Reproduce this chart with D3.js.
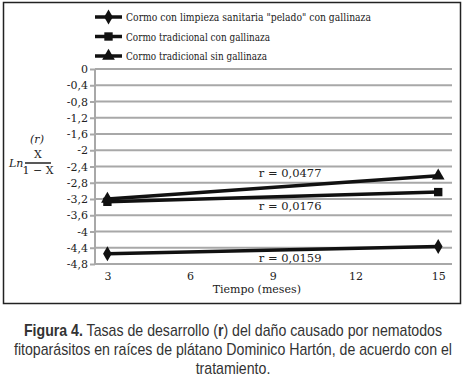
<!DOCTYPE html>
<html>
<head>
<meta charset="utf-8">
<script src="https://cdn.jsdelivr.net/npm/d3@7"></script>
<style>
  body { margin: 0; background: #fff; }
  .serif { font-family: "DejaVu Serif", "Liberation Serif", serif; }
</style>
</head>
<body>
<div id="chart"></div>
<script>
// chart data
const months = [3, 15];
const xTicks = [3, 6, 9, 12, 15];
const yTicks = [0, -0.4, -0.8, -1.2, -1.6, -2, -2.4, -2.8, -3.2, -3.6, -4, -4.4, -4.8];
const seriesNames = [
    "Cormo con limpieza sanitaria \"pelado\" con gallinaza",
    "Cormo tradicional con gallinaza",
    "Cormo tradicional sin gallinaza"
];
const seriesShapes = ["diamond", "square", "triangle"];
const peladoValues = [-4.55, -4.37];
const conGallinazaValues = [-3.27, -3.03];
const sinGallinazaValues = [-3.2, -2.63];
const rLabels = ["r = 0,0159", "r = 0,0176", "r = 0,0477"];
const rLabelY = [-4.75, -3.48, -2.65];
const captionLines = [
    "fitoparásitos en raíces de plátano Dominico Hartón, de acuerdo con el",
    "tratamiento."
];

const allValues = [peladoValues, conGallinazaValues, sinGallinazaValues];

const svgWidth = 467;
const svgHeight = 380;
const margin = { top: 69, right: 15, bottom: 116, left: 95 };
const width = svgWidth - margin.left - margin.right;
const height = svgHeight - margin.top - margin.bottom;

const svg = d3.select("#chart").append("svg")
    .attr("width", svgWidth)
    .attr("height", svgHeight);

// outer frame
svg.append("rect")
    .attr("x", 3.5).attr("y", 2.5)
    .attr("width", 457).attr("height", 301)
    .attr("fill", "none").attr("stroke", "#222").attr("stroke-width", 1.5);

const g = svg.append("g").attr("transform", `translate(${margin.left},${margin.top})`);

const x = d3.scaleLinear().domain([2.55, 15.5]).range([0, width]);
const y = d3.scaleLinear().domain([-4.8, 0]).range([height, 0]);

// gridlines
g.selectAll(".grid").data(yTicks).enter().append("line")
    .attr("x1", 0).attr("x2", width)
    .attr("y1", d => y(d)).attr("y2", d => y(d))
    .attr("stroke", "#a8a8a8").attr("stroke-width", 2);
g.append("line")
    .attr("x1", 0).attr("x2", 0).attr("y1", 0).attr("y2", height)
    .attr("stroke", "#a8a8a8").attr("stroke-width", 2);

// y axis labels, decimal comma
const yAxis = g.append("g").attr("class", "serif")
    .call(d3.axisLeft(y).tickValues(yTicks).tickSize(5)
        .tickFormat(d => d === 0 ? "0" : String(d).replace(".", ",")));
yAxis.select(".domain").remove();
yAxis.selectAll(".tick line").attr("stroke", "#a8a8a8").attr("stroke-width", 2);
yAxis.selectAll("text").attr("font-size", 11).attr("fill", "#222").attr("x", -7);

// x axis labels
const xAxis = g.append("g").attr("class", "serif")
    .attr("transform", `translate(0,${height})`)
    .call(d3.axisBottom(x).tickValues(xTicks).tickSize(0).tickPadding(8));
xAxis.select(".domain").remove();
xAxis.selectAll("text").attr("font-size", 11).attr("fill", "#222");

g.append("text").attr("class", "serif")
    .attr("x", x(9) - 16).attr("y", height + 29)
    .attr("text-anchor", "middle").attr("font-size", 11).attr("fill", "#222")
    .text("Tiempo (meses)");

// y axis title: (r)  Ln X/(1-X)
const yt = svg.append("g").attr("class", "serif").attr("fill", "#222");
yt.append("text").attr("x", 37).attr("y", 143).attr("text-anchor", "middle")
    .attr("font-size", 11).attr("font-style", "italic").text("(r)");
yt.append("text").attr("x", 9).attr("y", 167).attr("font-size", 11)
    .attr("font-style", "italic").text("Ln");
yt.append("text").attr("x", 38).attr("y", 158).attr("text-anchor", "middle")
    .attr("font-size", 11).text("X");
yt.append("line").attr("x1", 25).attr("x2", 51).attr("y1", 163).attr("y2", 163)
    .attr("stroke", "#222").attr("stroke-width", 1.5);
yt.append("text").attr("x", 38).attr("y", 174).attr("text-anchor", "middle")
    .attr("font-size", 11).text("1 \u2212 X");

// symbols
const symbolType = { diamond: d3.symbolDiamond, square: d3.symbolSquare, triangle: d3.symbolTriangle };
const symbolSize = { diamond: 65, square: 70, triangle: 70 };

const line = d3.line().x((d, i) => x(months[i])).y(d => y(d));

allValues.forEach(function (vals, s) {
    g.append("path").datum(vals)
        .attr("d", line)
        .attr("fill", "none").attr("stroke", "#111").attr("stroke-width", 3.5);
    g.selectAll(".pt" + s).data(vals).enter().append("path")
        .attr("transform", (d, i) => `translate(${x(months[i])},${y(d)})`)
        .attr("d", d3.symbol().type(symbolType[seriesShapes[s]]).size(symbolSize[seriesShapes[s]]))
        .attr("fill", "#111");
});

// r labels
g.selectAll(".rlab").data(rLabels).enter().append("text").attr("class", "serif")
    .attr("x", x(9) - 14).attr("y", (d, i) => y(rLabelY[i]))
    .attr("font-size", 11.5).attr("fill", "#222")
    .text(d => d);

// legend; stretch the text to the widths seen in the original
const legendWidths = [245, 144, 141];
const legend = svg.append("g").attr("transform", "translate(95,17)");
seriesNames.forEach(function (name, i) {
    const row = legend.append("g").attr("transform", `translate(0,${i * 19.5})`);
    row.append("line").attr("x1", 0).attr("x2", 27).attr("y1", 0).attr("y2", 0)
        .attr("stroke", "#111").attr("stroke-width", 3.5);
    row.append("path").attr("transform", "translate(13.5,0)")
        .attr("d", d3.symbol().type(symbolType[seriesShapes[i]]).size(symbolSize[seriesShapes[i]]))
        .attr("fill", "#111");
    row.append("text").attr("class", "serif")
        .attr("x", 31).attr("y", 4).attr("font-size", 11.5).attr("fill", "#222")
        .attr("textLength", legendWidths[i]).attr("lengthAdjust", "spacingAndGlyphs")
        .text(name);
});

// caption, squeezed horizontally to mimic a narrow sans face
const capScale = 0.885;
const cap = svg.append("g").attr("transform", `scale(${capScale},1)`)
    .append("text")
    .attr("font-family", "'Liberation Sans', Arial, sans-serif")
    .attr("font-size", 16).attr("fill", "#333").attr("text-anchor", "middle");
const l1 = cap.append("tspan").attr("x", 233 / capScale).attr("y", 336);
l1.append("tspan").attr("font-weight", "bold").text("Figura 4.");
l1.append("tspan").text(" Tasas de desarrollo (");
l1.append("tspan").attr("font-weight", "bold").text("r");
l1.append("tspan").text(") del daño causado por nematodos");
captionLines.forEach(function (t, i) {
    cap.append("tspan").attr("x", 233 / capScale).attr("y", 355 + i * 19).text(t);
});
</script>
</body>
</html>
